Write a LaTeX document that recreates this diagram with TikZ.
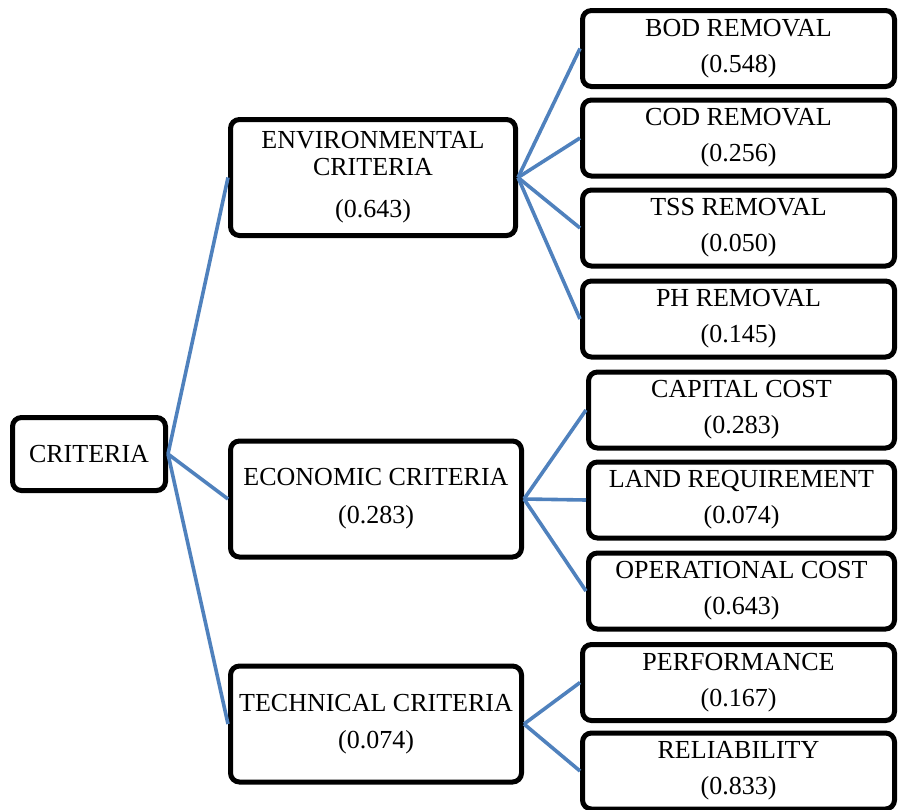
\documentclass[tikz,border=0pt]{standalone}
\usepackage{fontspec}
\setmainfont{Liberation Serif}
\usetikzlibrary{positioning}
\definecolor{linkblue}{RGB}{79,129,189}
\tikzset{
  box/.style={draw=black, line width=5pt, rounded corners=9pt, fill=white,
    align=center, inner sep=2pt, font=\fontsize{26}{28}\selectfont},
  midbox/.style={box, minimum width=#1, minimum height=116pt},
  midbox/.default=291pt,
  leafbox/.style={box, minimum width=#1, minimum height=76pt},
  leafbox/.default=312pt,
  link/.style={draw=linkblue, line width=3.6pt},
}

\begin{document}
\begin{tikzpicture}[x=1pt, y=-1pt]
  \useasboundingbox (0,0) rectangle (899,809);
  % root and the three groups of criteria
  \node[box, minimum width=153pt, minimum height=73pt] (crit) at (89,454) {CRITERIA};
  \node[midbox=285pt] (env) at (373,177.5) {ENVIRONMENTAL\\[-1pt]CRITERIA\\[14pt](0.643)};
  \node[midbox] (eco) at (376,499) {ECONOMIC CRITERIA\\[10pt](0.283)};
  \node[midbox] (tech) at (376,724) {TECHNICAL CRITERIA\\[9pt](0.074)};
  \foreach \g in {env,eco,tech}
    \draw[link] (crit.east) -- (\g.west);
  % sub-criteria with their weights
  \foreach \nm/\up/\xc/\mw/\yc/\lab/\w in {
      bod/env/738.5/312pt/48.5/BOD REMOVAL/0.548,
      cod/env/738.5/312pt/138/COD REMOVAL/0.256,
      tss/env/738.5/312pt/228/TSS REMOVAL/0.050,
      ph/env/738.5/312pt/319/PH REMOVAL/0.145,
      capex/eco/741.5/306pt/410/CAPITAL COST/0.283,
      land/eco/741.5/306pt/500/LAND REQUIREMENT/0.074,
      opex/eco/741.5/306pt/591/OPERATIONAL COST/0.643,
      perf/tech/738.5/312pt/682.5/PERFORMANCE/0.167,
      rel/tech/738.5/312pt/771/RELIABILITY/0.833} {
    \node[leafbox=\mw] (\nm) at (\xc,\yc) {\lab\\[8pt](\w)};
    \draw[link] (\up.east) -- (\nm.west);
  }
\end{tikzpicture}
\end{document}
